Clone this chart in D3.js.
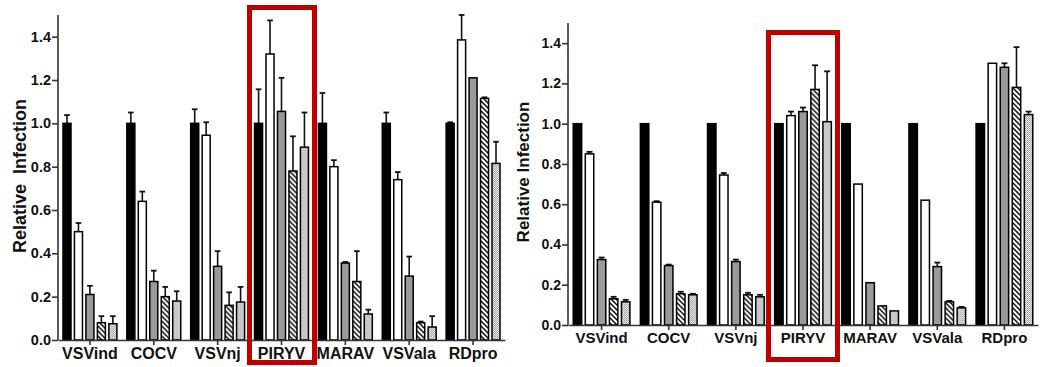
<!DOCTYPE html>
<html><head><meta charset="utf-8">
<script src="https://cdn.jsdelivr.net/npm/d3@7"></script>
<style>body{margin:0;background:#fff}svg{display:block}text{font-family:Arial,"Liberation Sans",sans-serif;font-weight:bold;fill:#111}</style>
</head><body><svg id="c" width="1043" height="367"></svg>
<script>
const categories = ["VSVind","COCV","VSVnj","PIRYV","MARAV","VSVala","RDpro"];
const seriesNames = ["s1","s2","s3","s4","s5"];
const yTicks = [0,0.2,0.4,0.6,0.8,1.0,1.2,1.4];
const yTickLabels = ["0.0","0.2","0.4","0.6","0.8","1.0","1.2","1.4"];
// Left panel: values and error-bar tops, per category, per series
const leftValues = [
  [1.00,0.50,0.21,0.08,0.075],
  [1.00,0.64,0.27,0.20,0.18],
  [1.00,0.945,0.34,0.16,0.175],
  [1.00,1.32,1.055,0.78,0.89],
  [1.00,0.80,0.355,0.27,0.12],
  [1.00,0.74,0.295,0.08,0.06],
  [1.00,1.385,1.21,1.115,0.815]
];
const leftErrTop = [
  [1.038,0.54,0.25,0.11,0.11],
  [1.05,0.685,0.32,0.245,0.225],
  [1.065,1.005,0.41,0.22,0.245],
  [1.157,1.475,1.21,0.94,1.05],
  [1.14,0.83,0.36,0.41,0.14],
  [1.05,0.775,0.385,0.085,0.11],
  [1.005,1.50,1.21,1.12,0.915]
];
const rightValues = [
  [1.00,0.85,0.325,0.13,0.115],
  [1.00,0.61,0.295,0.155,0.15],
  [1.00,0.745,0.315,0.15,0.14],
  [1.00,1.04,1.06,1.17,1.01],
  [1.00,0.70,0.21,0.095,0.07],
  [1.00,0.62,0.29,0.115,0.085],
  [1.00,1.30,1.28,1.18,1.045]
];
const rightErrTop = [
  [1.00,0.86,0.335,0.14,0.125],
  [1.00,0.615,0.30,0.165,0.155],
  [1.00,0.755,0.325,0.16,0.15],
  [1.00,1.06,1.08,1.29,1.26],
  [1.00,0.70,0.21,0.095,0.07],
  [1.00,0.62,0.31,0.12,0.09],
  [1.00,1.30,1.30,1.38,1.06]
];
const highlight = "PIRYV";

const svg = d3.select("#c");
const defs = svg.append("defs");
const hp = defs.append("pattern").attr("id","hatch").attr("patternUnits","userSpaceOnUse")
  .attr("width",5).attr("height",5);
hp.append("rect").attr("width",5).attr("height",5).attr("fill","#fff");
hp.append("path").attr("d","M-1,-1 L6,6 M-1,4 L1,6 M4,-1 L6,1").attr("stroke","#000").attr("stroke-width",1.4);
const dp = defs.append("pattern").attr("id","dots").attr("patternUnits","userSpaceOnUse")
  .attr("width",2).attr("height",2);
dp.append("rect").attr("width",2).attr("height",2).attr("fill","#f0f0f0");
dp.append("rect").attr("width",1).attr("height",1).attr("fill","#999");
dp.append("rect").attr("x",1).attr("y",1).attr("width",1).attr("height",1).attr("fill","#aaa");
const fills = ["#000","#fff","#9a9a9a","url(#hatch)","url(#dots)"];

function panel(o){
  const g = svg.append("g");
  const y = d3.scaleLinear().domain([0,1.5]).range([o.y0,o.yTop]);
  const x = d3.scaleBand().domain(categories).range([o.x0,o.x1]).paddingInner(0.12).paddingOuter(0.06);
  const xi = d3.scaleBand().domain(seriesNames).range([0,x.bandwidth()]).paddingInner(0.3).paddingOuter(0.1);
  categories.forEach((c,ci)=>{
    const gg = g.append("g").attr("transform",`translate(${x(c)},0)`);
    seriesNames.forEach((s,si)=>{
      const v = o.values[ci][si], e = o.err[ci][si];
      const bx = xi(s), bw = xi.bandwidth(), cx = bx+bw/2;
      if (e > v + 0.001){
        gg.append("line").attr("x1",cx).attr("x2",cx).attr("y1",y(v)).attr("y2",y(e))
          .attr("stroke","#111").attr("stroke-width",1.6);
        gg.append("line").attr("x1",cx-bw*0.35).attr("x2",cx+bw*0.35).attr("y1",y(e)).attr("y2",y(e))
          .attr("stroke","#111").attr("stroke-width",1.8);
      }
      gg.append("rect").attr("x",bx).attr("y",y(v)).attr("width",bw).attr("height",y(0)-y(v))
        .attr("fill",fills[si]).attr("stroke","#000").attr("stroke-width",1.5);
    });
  });
  const ya = d3.axisLeft(y).tickValues(yTicks).tickFormat((d,i)=>yTickLabels[i]).tickSize(6).tickSizeOuter(0);
  const yg = g.append("g").attr("transform",`translate(${o.x0},0)`).call(ya);
  yg.select(".domain").attr("d",`M0,${o.yTop}V${o.y0}`).attr("stroke","#333").attr("stroke-width",1.6);
  yg.selectAll(".tick line").attr("stroke","#333").attr("stroke-width",1.6);
  yg.selectAll(".tick text").attr("x",-7).style("font-size",o.tickSize+"px").style("font-family","Arial,'Liberation Sans',sans-serif").style("font-weight","bold").attr("fill","#111");
  const xa = d3.axisBottom(x).tickSize(5).tickSizeOuter(0);
  const xg = g.append("g").attr("transform",`translate(0,${o.y0})`).call(xa);
  xg.select(".domain").attr("stroke","#333").attr("stroke-width",1.6);
  xg.selectAll(".tick line").attr("stroke","#333").attr("stroke-width",1.6);
  xg.selectAll(".tick text").attr("y",o.labelDy).style("font-size",o.catSize+"px").style("font-family","Arial,'Liberation Sans',sans-serif").style("font-weight","bold").attr("fill","#111");
  g.append("text").attr("transform",`translate(${o.titleX},${o.titleY}) rotate(-90)`)
    .attr("text-anchor","middle").style("font-size",o.titleSize+"px").attr("xml:space","preserve").text(o.title);
  g.append("rect").attr("x",o.box[0]).attr("y",o.box[1]).attr("width",o.box[2]).attr("height",o.box[3])
    .attr("fill","none").attr("stroke","#c00000").attr("stroke-width",5);
}

panel({x0:58,x1:505,y0:340,yTop:15,values:leftValues,err:leftErrTop,labelDy:8,tickSize:14.5,catSize:16,
  title:"Relative  Infection",titleX:26,titleY:176,titleSize:18,box:[249.5,7.5,65,355]});
panel({x0:568,x1:1038,y0:325,yTop:23,values:rightValues,err:rightErrTop,labelDy:7,tickSize:14,catSize:15,
  title:"Relative Infection",titleX:529,titleY:172,titleSize:17,box:[768.5,32.5,69,327]});
</script></body></html>
